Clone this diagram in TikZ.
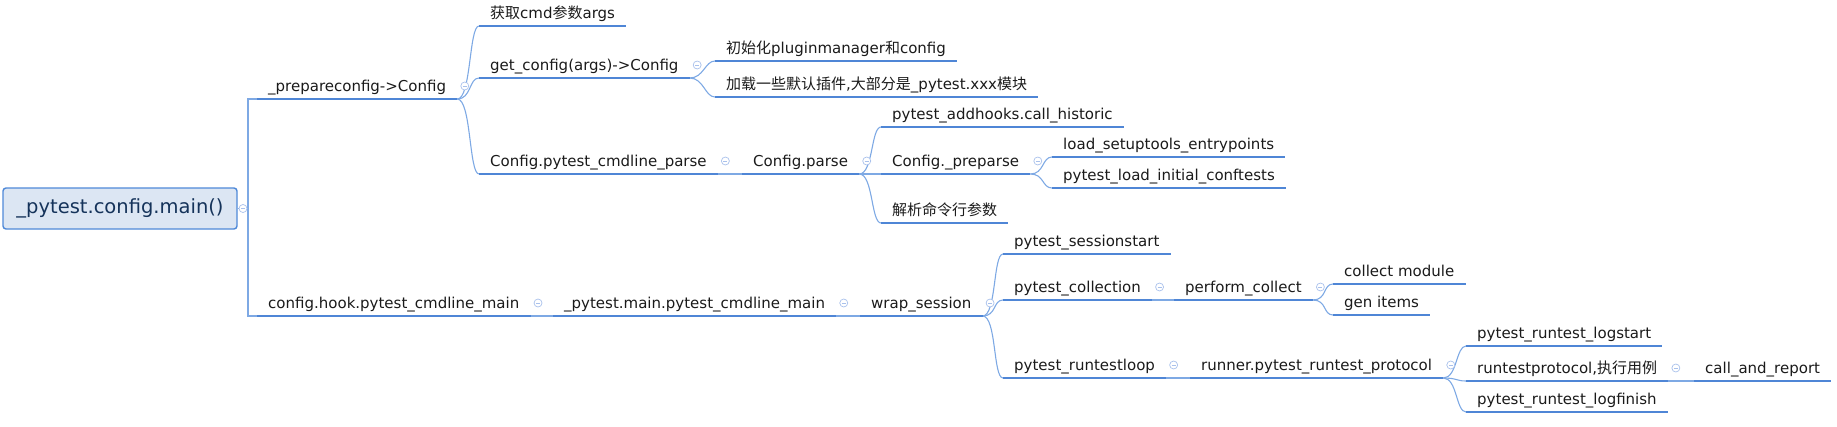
\documentclass[tikz,border=0pt]{standalone}
\usepackage{fontspec}
\setmainfont{DejaVu Sans}
\newfontfamily\cjk{Noto Sans CJK SC}
\usetikzlibrary{calc}
\definecolor{ulinec}{HTML}{4F86D6}
\definecolor{linkc}{HTML}{7EA9E4}
\definecolor{foldc}{HTML}{A9C1EC}
\definecolor{textc}{HTML}{1A1A1A}
\definecolor{rootfill}{HTML}{DCE6F3}
\definecolor{rootline}{HTML}{4F89D8}
\definecolor{roottext}{HTML}{15335A}

\begin{document}
\begin{tikzpicture}[x=1pt,y=-1pt,
  topic/.style={anchor=south west,inner xsep=11pt,inner ysep=7pt,text depth=0pt,
    text=textc,font=\fontsize{15}{18}\selectfont},
  root/.style={draw=rootline,fill=rootfill,rounded corners=3pt,line width=1.4pt,
    minimum width=234pt,minimum height=41pt,text=roottext,font=\fontsize{19.5}{23}\selectfont},
  uline/.style={draw=ulinec,line width=2.6pt},
  link/.style={draw=linkc,line width=1.1pt},
  fold/.style={circle,draw=foldc,fill=white,line width=0.7pt,minimum size=8pt,inner sep=0pt,
    path picture={\draw[foldc,line width=0.7pt] ([xshift=-2pt]path picture bounding box.center)
      -- ([xshift=2pt]path picture bounding box.center);}}]
\useasboundingbox (0,0) rectangle (1837,426);
\node[root] (main) at (120,208.5) {\_pytest.config.main()};
\coordinate (trunk) at (248,208.5);
% first level
\node[topic] (prep) at (257,99) {\_prepareconfig->Config};
\node[topic] (hook) at (257,316) {config.hook.pytest\_cmdline\_main};
% config branch
\node[topic] (args) at (479,26) {{\cjk 获取}cmd{\cjk 参数}args};
\node[topic] (getcfg) at (479,78) {get\_config(args)->Config};
\node[topic] (cparse) at (479,174) {Config.pytest\_cmdline\_parse};
\node[topic] (initpm) at (715,61) {{\cjk 初始化}pluginmanager{\cjk 和}config};
\node[topic] (loadpl) at (715,97) {{\cjk 加载一些默认插件},{\cjk 大部分是}\_pytest.xxx{\cjk 模块}};
\node[topic] (parse) at (742,174) {Config.parse};
\node[topic] (addhooks) at (881,127) {pytest\_addhooks.call\_historic};
\node[topic] (prepar) at (881,174) {Config.\_preparse};
\node[topic] (argparse) at (881,223) {{\cjk 解析命令行参数}};
\node[topic] (setuptools) at (1052,157) {load\_setuptools\_entrypoints};
\node[topic] (conftests) at (1052,188) {pytest\_load\_initial\_conftests};
% main branch
\node[topic] (mainmain) at (553,316) {\_pytest.main.pytest\_cmdline\_main};
\node[topic] (wrap) at (860,316) {wrap\_session};
\node[topic] (sstart) at (1003,254) {pytest\_sessionstart};
\node[topic] (collection) at (1003,300) {pytest\_collection};
\node[topic] (runloop) at (1003,378) {pytest\_runtestloop};
\node[topic] (perform) at (1174,300) {perform\_collect};
\node[topic] (cmod) at (1333,284) {collect module};
\node[topic] (gitems) at (1333,315) {gen items};
\node[topic] (protocol) at (1190,378) {runner.pytest\_runtest\_protocol};
\node[topic] (logstart) at (1466,346) {pytest\_runtest\_logstart};
\node[topic] (rtp) at (1466,381) {runtestprotocol,{\cjk 执行用例}};
\node[topic] (logfinish) at (1466,412) {pytest\_runtest\_logfinish};
\node[topic] (callrep) at (1694,381) {call\_and\_report};
% connectors
\draw[link] (main.east) -- (trunk);
\draw[link] (prep.south west) -| (trunk) |- (hook.south west);
\foreach \p/\cs in {prep/{args,getcfg,cparse},getcfg/{initpm,loadpl},parse/{addhooks,prepar,argparse},
    prepar/{setuptools,conftests},wrap/{sstart,collection,runloop},perform/{cmod,gitems},
    protocol/{logstart,rtp,logfinish}}
  \foreach \c in \cs
    \draw[link] (\p.south east) .. controls +(14,0) and +(-10,0) .. (\c.south west);
\foreach \a/\b in {cparse/parse,hook/mainmain,mainmain/wrap,collection/perform,runloop/protocol,rtp/callrep}
  \draw[link] (\a.south east) -- (\b.south west);
% underlines
\foreach \n in {prep,hook,args,getcfg,cparse,initpm,loadpl,parse,addhooks,prepar,argparse,setuptools,
    conftests,mainmain,wrap,sstart,collection,runloop,perform,cmod,gitems,protocol,logstart,rtp,logfinish,callrep}
  \draw[uline] (\n.south west) -- (\n.south east);
% fold marks
\node[fold] (fmain) at (243,208.5) {};
\foreach \p in {prep,getcfg,cparse,parse,prepar,hook,mainmain,wrap,collection,perform,runloop,protocol,rtp}
  \node[fold] (f\p) at ($(\p.south east)+(7.5,-13)$) {};
\end{tikzpicture}
\end{document}
